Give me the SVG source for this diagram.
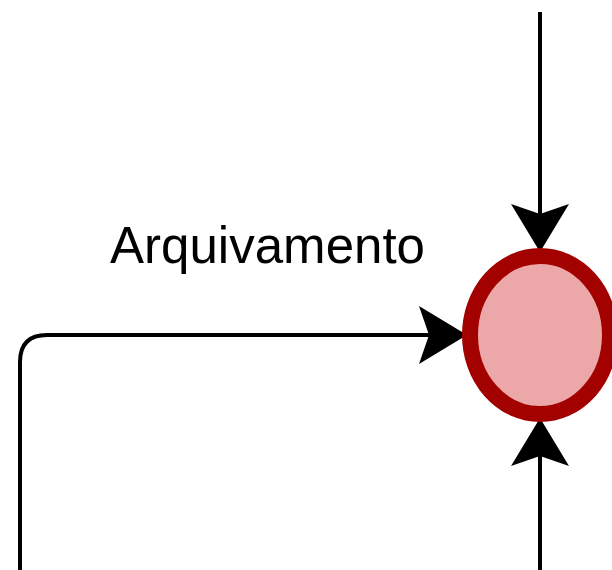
<svg xmlns="http://www.w3.org/2000/svg" width="612" height="570" viewBox="0 0 612 570">
<style>
.flow{fill:none;stroke:#000;stroke-width:4}
.head{fill:#000}
.lbl{font-family:"Liberation Sans",Arial,sans-serif;font-size:52px;fill:#000}
.end{fill:#eca8a8;stroke:#a30000;stroke-width:16}
</style>
<defs>
<polygon id="ah" class="head" points="0,0 -48,-29 -38,0 -48,29"/>
</defs>
<rect width="612" height="570" fill="#fff"/>
<g id="connectors">
<g id="flow-top">
<path class="flow" d="M540,12 V215"/>
<use href="#ah" transform="translate(540,252) rotate(90)"/>
</g>
<g id="flow-left">
<path class="flow" d="M20,570 V362 Q20,335 47,335 H430"/>
<use href="#ah" transform="translate(467,335)"/>
<text class="lbl" x="110" y="263" textLength="315" lengthAdjust="spacingAndGlyphs">Arquivamento</text>
</g>
<g id="flow-bottom">
<path class="flow" d="M540,570 V455"/>
<use href="#ah" transform="translate(540,418) rotate(-90)"/>
</g>
</g>
<g id="end-event">
<ellipse class="end" cx="540" cy="335" rx="70" ry="79"/>
</g>
</svg>
